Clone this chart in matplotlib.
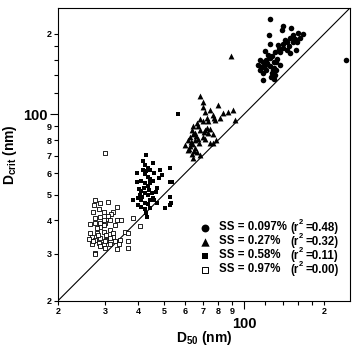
import matplotlib
matplotlib.use("Agg")
import matplotlib.pyplot as plt
from matplotlib.ticker import FixedLocator, FixedFormatter

plt.rcParams['font.family'] = ['Liberation Sans', 'DejaVu Sans']
plt.rcParams['font.weight'] = 'bold'
plt.rcParams['mathtext.fontset'] = 'custom'
plt.rcParams['mathtext.rm'] = 'Liberation Sans:bold'
plt.rcParams['mathtext.bf'] = 'Liberation Sans:bold'
plt.rcParams['mathtext.it'] = 'Liberation Sans:bold'
plt.rcParams['mathtext.default'] = 'regular'

# SS = 0.097 % (circles)
circ_x = [125, 140, 150, 139, 153, 160, 167, 162, 149, 145, 153, 158, 140, 134, 140, 145,
          137, 131, 149, 157, 124, 125, 120, 115, 118, 121, 125, 129, 132, 125, 129, 121,
          118, 127, 131, 129, 118, 115, 113, 120, 132, 137, 123, 116, 242, 143, 147, 155,
          135, 127, 122, 119, 126, 133, 128]
circ_y = [227, 214, 210, 207, 198, 202, 200, 193, 193, 186, 186, 186, 184, 182, 177, 174,
          171, 171, 169, 174, 198, 184, 173, 159, 157, 160, 163, 157, 157, 151, 149, 147,
          143, 143, 140, 135, 134, 147, 153, 153, 147, 153, 167, 150, 159, 190, 180, 192,
          176, 165, 155, 150, 138, 161, 146]

# SS = 0.27 % (triangles)
tri_x = [68.4, 79.9, 70.0, 69.8, 71.4, 74.6, 76.2, 72.6, 68.4, 66.6, 64.4, 67.2, 70.0,
         73.5, 77.0, 78.0, 81.3, 83.5, 87.0, 90.6, 92.6, 63.8, 64.4, 62.7, 61.6, 63.8,
         65.5, 67.2, 69.8, 71.4, 74.6, 76.2, 78.6, 65.5, 66.6, 68.4, 64.4, 73.5, 76.2,
         71.4, 62.7, 61.6, 60.0, 65.5, 68.4, 72.5, 74.6, 89.4, 63.0, 64.0, 66.0, 62.0,
         63.5, 65.0, 67.5, 70.5]
tri_y = [117, 108, 111, 106, 102, 104, 99, 97, 96, 93, 90, 90, 94, 94, 97, 95, 97, 101,
         102, 104, 95, 87, 84, 82, 80, 78, 80, 81, 82, 81, 78, 78, 80, 75, 72, 70.4, 68.5,
         85, 84, 87, 76, 73.5, 76.7, 85, 87.3, 89, 88, 165, 79, 77, 83, 74, 71, 73, 78, 86]

# SS = 0.58 % (filled squares)
fsq_x = [42.8, 41.8, 42.3, 41.8, 42.8, 43.5, 44.5, 45.5, 39.5, 42.3, 43.5, 44.5, 46.0,
         48.4, 49.0, 52.7, 39.5, 41.0, 42.3, 43.5, 44.5, 45.5, 52.7, 41.0, 42.3, 43.5,
         45.0, 46.5, 38.3, 40.0, 41.0, 42.3, 43.5, 44.5, 46.0, 47.2, 52.7, 52.7, 50.5,
         42.3, 43.0, 43.1, 41.0, 44.5, 45.5, 53.7, 53.2, 40.2, 40.8, 41.5, 42.0, 44.0,
         47.0, 48.0, 56.5, 39.8]
fsq_y = [70.4, 67.0, 64.5, 62.0, 61.0, 63.0, 62.0, 65.7, 60.2, 59.5, 58.0, 57.0, 60.0,
         61.8, 59.2, 62.7, 55.5, 56.0, 55.0, 54.0, 55.0, 56.0, 55.9, 51.5, 50.5, 50.0,
         50.5, 51.0, 47.7, 48.5, 47.5, 46.5, 46.0, 47.5, 47.5, 46.5, 48.9, 45.7, 44.4,
         44.0, 42.5, 41.3, 45.0, 44.5, 48.5, 55.6, 46.4, 52.5, 50.0, 49.0, 53.0, 52.0,
         53.0, 57.5, 100.0, 45.5]

# SS = 0.97 % (open squares)
osq_x = [27.6, 28.8, 30.9, 27.3, 27.1, 28.4, 29.7, 28.8, 27.6, 32.2, 31.7, 33.3, 30.9,
         33.3, 34.4, 31.3, 26.4, 27.6, 28.8, 30.1, 32.8, 28.8, 31.3, 29.7, 28.0, 26.4,
         26.8, 26.2, 27.6, 28.8, 30.4, 32.2, 34.2, 35.7, 36.7, 38.2, 40.7, 36.7, 36.7,
         33.3, 31.3, 30.1, 29.7, 27.6, 27.6, 28.4, 26.8, 28.8, 27.1, 32.8, 33.8, 28.0,
         29.7, 30.4, 32.2, 30.1, 30.1, 31.3, 28.2, 29.7]
osq_y = [47.7, 46.4, 46.8, 45.5, 42.9, 44.2, 43.1, 41.3, 40.8, 43.1, 42.3, 45.0, 41.5,
         40.1, 40.1, 40.1, 38.7, 39.0, 39.0, 39.2, 38.4, 37.8, 36.8, 36.3, 36.0, 35.8,
         34.8, 34.1, 33.8, 34.3, 33.8, 34.8, 33.8, 36.3, 35.8, 40.8, 38.1, 33.4, 31.6,
         31.3, 32.7, 31.6, 32.6, 30.3, 29.8, 32.8, 32.6, 32.1, 33.4, 33.4, 32.6, 37.3,
         38.4, 35.3, 35.8, 71.6, 33.4, 34.3, 35.3, 40.1]

ss_labels = ["SS = 0.097%", "SS = 0.27%", "SS = 0.58%", "SS = 0.97%"]
r2_values = ["=0.48)", "=0.32)", "=0.11)", "=0.00)"]

lim = [20, 250]
minor_ticks = [20, 30, 40, 50, 60, 70, 80, 90, 120, 140, 160, 180, 200]
minor_labels = ["2", "3", "4", "5", "6", "7", "8", "9", "", "", "", "", "2"]

W, H = 355, 347
fig = plt.figure(figsize=(W / 100, H / 100), dpi=100)
L, R, T, B = 58, 350, 8, 300.7
ax = fig.add_axes([L / W, (H - B) / H, (R - L) / W, (B - T) / H])

ax.plot(lim, lim, color='black', lw=0.8, zorder=1)
ax.scatter(circ_x, circ_y, s=16, marker='o', c='black', linewidths=0, zorder=3)
ax.scatter(tri_x, tri_y, s=18, marker='^', c='black', linewidths=0, zorder=3)
ax.scatter(fsq_x, fsq_y, s=11, marker='s', c='black', linewidths=0, zorder=3)
ax.scatter(osq_x, osq_y, s=10, marker='s', facecolors='white', edgecolors='black',
           linewidths=0.6, zorder=3)

ax.set_xscale('log')
ax.set_yscale('log')
ax.set_xlim(lim)
ax.set_ylim(lim)

for axis in (ax.xaxis, ax.yaxis):
    axis.set_major_locator(FixedLocator([100]))
    axis.set_major_formatter(FixedFormatter(["100"]))
    axis.set_minor_locator(FixedLocator(minor_ticks))
    axis.set_minor_formatter(FixedFormatter(minor_labels))

ax.tick_params(which='major', length=5.5, width=0.8, labelsize=10.5, direction='out')
ax.tick_params(axis='x', which='major', pad=6)
ax.tick_params(axis='y', which='major', pad=2)
ax.tick_params(which='minor', length=3, width=0.8, labelsize=6.5, direction='out', pad=1.5)
for lab in ax.get_xticklabels(which='both') + ax.get_yticklabels(which='both'):
    lab.set_fontweight('bold')
for sp in ax.spines.values():
    sp.set_linewidth(0.8)

ax.set_xlabel("D$_{50}$ (nm)", fontsize=10, fontweight='bold')
ax.set_ylabel("D$_{crit}$ (nm)", fontsize=10, fontweight='bold')
ax.xaxis.set_label_coords(0.5, (B - 329) / (B - T))
ax.yaxis.set_label_coords((19 - L) / (R - L), 0.5)

# legend drawn in axes coordinates
def axx(px):
    return (px - L) / (R - L)

def axy(py):
    return (B - py) / (B - T)

markers = [dict(marker='o', c='black', linewidths=0, s=32),
           dict(marker='^', c='black', linewidths=0, s=36),
           dict(marker='s', c='black', linewidths=0, s=24),
           dict(marker='s', facecolors='white', edgecolors='black', linewidths=0.7, s=24)]
rows_py = [227.5, 241.5, 255.5, 269.5]
fs = 8.3
for i in range(4):
    py = rows_py[i]
    ax.scatter([axx(205)], [axy(py)], transform=ax.transAxes, clip_on=False, zorder=4,
               **markers[i])
    ax.text(axx(219), axy(py), ss_labels[i], transform=ax.transAxes, fontsize=fs,
            fontweight='bold', ha='left', va='center')
    ax.text(axx(290), axy(py), "(r", transform=ax.transAxes, fontsize=fs,
            fontweight='bold', ha='left', va='center')
    ax.text(axx(298.5), axy(py - 4.5), "2", transform=ax.transAxes, fontsize=5.5,
            fontweight='bold', ha='left', va='center')
    ax.text(axx(305), axy(py), r2_values[i], transform=ax.transAxes, fontsize=fs,
            fontweight='bold', ha='left', va='center')

fig.savefig("out.png", dpi=100)
